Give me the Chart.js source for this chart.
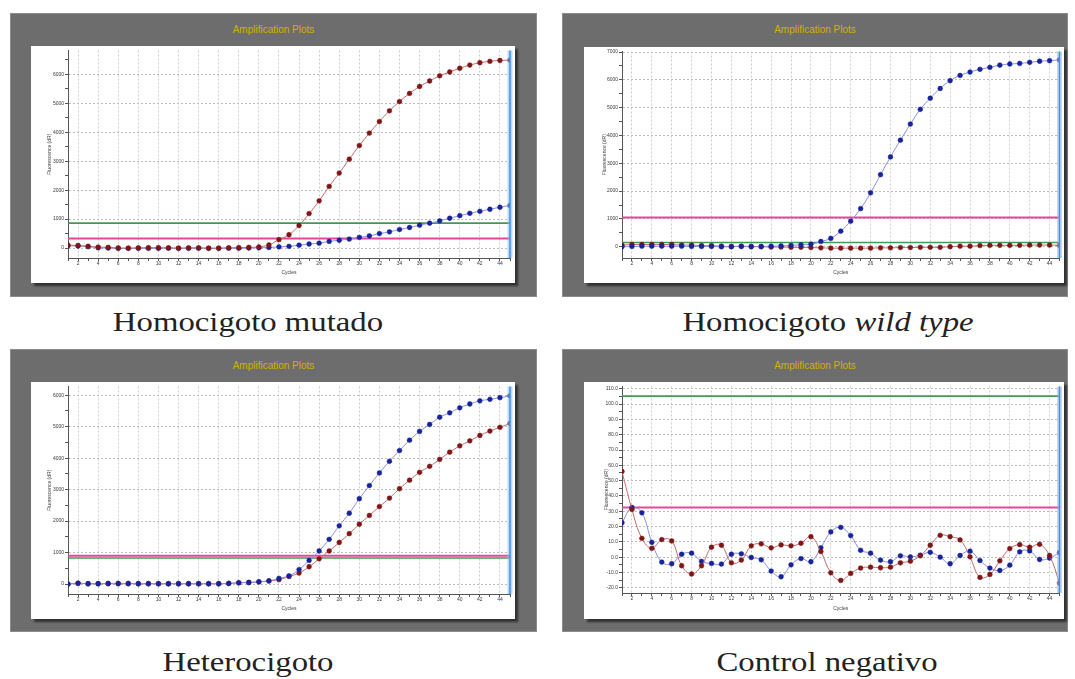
<!DOCTYPE html>
<html>
<head>
<meta charset="utf-8">
<script src="https://cdn.jsdelivr.net/npm/chart.js@4.4.0/dist/chart.umd.min.js"></script>
<style>
  html, body { margin: 0; padding: 0; background: #fff; width: 1075px; height: 679px; overflow: hidden; position: relative; font-family: "Liberation Sans", Arial, sans-serif; }
  .frame { position: absolute; background: #6d6d6d; box-sizing: border-box; border: 1px solid #8c8c8c; }
  .ttl { position: absolute; left: 0; right: 0; text-align: center; color: #d2b200; font-size: 10px; line-height: 10px; }
  .plot { position: absolute; background: #fff; box-shadow: 3px 3px 2px rgba(0,0,0,0.55); }
  .plot canvas { display: block; }
  .cap { position: absolute; font-family: "Liberation Serif", "Times New Roman", serif; font-size: 28px; line-height: 28px; color: #222; white-space: nowrap; transform: translateX(-50%) scaleX(1.17); transform-origin: center; }
</style>
</head>
<body>

<div class="frame" style="left:10px;top:13px;width:527px;height:284px;"><div class="ttl" style="top:11px;">Amplification Plots</div></div>
<div class="plot" style="left:31px;top:46px;width:484px;height:237px;"><canvas id="c1" width="484" height="237"></canvas></div>

<div class="frame" style="left:562px;top:13px;width:506px;height:284px;"><div class="ttl" style="top:11px;">Amplification Plots</div></div>
<div class="plot" style="left:584px;top:47px;width:480px;height:236px;"><canvas id="c2" width="480" height="236"></canvas></div>

<div class="frame" style="left:10px;top:349px;width:527px;height:283px;"><div class="ttl" style="top:11px;">Amplification Plots</div></div>
<div class="plot" style="left:31px;top:382px;width:484px;height:237px;"><canvas id="c3" width="484" height="237"></canvas></div>

<div class="frame" style="left:562px;top:349px;width:506px;height:283px;"><div class="ttl" style="top:11px;">Amplification Plots</div></div>
<div class="plot" style="left:584px;top:382px;width:480px;height:237px;"><canvas id="c4" width="480" height="237"></canvas></div>

<div class="cap" style="left:248px;top:308px;">Homocigoto mutado</div>
<div class="cap" style="left:828px;top:308px;">Homocigoto <i>wild type</i></div>
<div class="cap" style="left:248px;top:648px;">Heterocigoto</div>
<div class="cap" style="left:827px;top:648px;">Control negativo</div>

<script>
// Cycle numbers on the x axis and the ones that carry a label
const cycles = [1,2,3,4,5,6,7,8,9,10,11,12,13,14,15,16,17,18,19,20,21,22,23,24,25,26,27,28,29,30,31,32,33,34,35,36,37,38,39,40,41,42,43,44,45];
const labeledCycles = [2,4,6,8,10,12,14,16,18,20,22,24,26,28,30,32,34,36,38,40,42,44];

// Homocigoto mutado
const mutRed = [100,90,60,35,25, 5,0,10,15,15, 10,0,10,10,0, 0,10,15,25,40,
  110,290,460,780,1190, 1630,2130,2590,3070,3540, 3970,4370,4740,5060,5340,
  5580,5770,5950,6080,6210, 6320,6400,6450,6480,6490];
const mutBlue = [80,70,50,10,0, -10,-10,-10,-10,-10, -5,-10,-10,-5,-10, -10,-5,-5,0,10,
  20,40,60,100,140, 170,230,270,310,370, 420,500,560,640,710,
  790,860,940,1030,1120, 1200,1270,1340,1410,1470];
const mutThresholds = { green: 860, pink: 330 };
const mutYTicks = [0,500,1000,1500,2000,2500,3000,3500,4000,4500,5000,5500,6000,6500];

// Homocigoto wild type
const wtBlue = [0,10,20,20,20, 20,20,10,10,10, 0,0,10,0,10, 20,30,50,70,90,
  190,300,560,920,1370, 1940,2590,3230,3830,4410, 4940,5340,5690,5970,6160,
  6280,6380,6450,6530,6570, 6590,6630,6670,6690,6720];
const wtRed = [60,80,80,80,80, 80,60,60,40,40, 20,10,20,10,0, -10,-10,-20,-20,-30,
  -40,-50,-50,-50,-50, -50,-40,-40,-30,-30, -20,-20,-20,0,20,
  20,40,50,50,50, 50,60,60,60,50];
const wtThresholds = { green: 155, pink: 1050 };
const wtYTicks = [0,500,1000,1500,2000,2500,3000,3500,4000,4500,5000,5500,6000,6500,7000];

// Heterocigoto
const hetBlue = [0,20,10,10,20, 20,20,10,10,10, 10,10,10,10,10, 10,20,40,50,70,
  100,180,260,460,750, 1050,1420,1850,2250,2710, 3130,3530,3900,4240,4570,
  4850,5070,5300,5440,5600, 5720,5820,5870,5920,5980];
const hetRed = [0,30,10,10,10, 10,10,10,10,10, 10,10,10,10,10, 10,20,40,50,70,
  100,140,240,350,550, 800,1050,1320,1600,1900, 2180,2460,2730,3030,3300,
  3550,3740,3960,4190,4390, 4550,4720,4860,4980,5100];
const hetThresholds = { green: 830, pink: 900 };
const hetYTicks = [0,500,1000,1500,2000,2500,3000,3500,4000,4500,5000,5500,6000];

// Control negativo
const negBlue = [22.5,32.5,29,9.7,-3.2, -4.3,1.9,2.6,-2.8,-4.1, -4.5,1.9,2.2,-0.2,-1.7,
  -9.1,-12.8,-5.0,-0.9,-3.0, 6.1,16.5,19.5,14.1,4.5, 2.6,-1.9,-3.0,0.9,0.2,
  1.3,3.2,0.0,-4.3,1.1, 3.9,-2.2,-7.1,-8.7,-5.2, 3.5,4.1,-1.5,-0.6,3.0];
const negRed = [56,31.2,12.3,5.8,11.5, 10.6,-5.6,-11.0,-5.6,6.5, 7.8,-3.7,-1.9,7.4,8.7,
  6.1,8.0,7.4,9.1,13.4, 3.7,-10.2,-15.2,-10.6,-7.1, -6.5,-6.9,-6.5,-3.7,-2.6,
  0.9,7.8,14.3,13.4,11.3, 0.2,-13.2,-11.3,-2.4,5.6, 8.2,6.5,8.4,1.1,-16.9];
const negThresholds = { green: 105.2, pink: 32.5 };
const negYTicks = [-20,-15,-10,-5,0,5,10,15,20,25,30,35,40,45,50,55,60,65,70,75,80,85,90,95,100,105,110];

const RED_PT = '#7e1616', RED_LN = '#c46a6a';
const BLUE_PT = '#17239a', BLUE_LN = '#8b8be6';
const GREEN = '#3f9a55', PINK = '#e6479e';
const AXIS_FONT = { family: '"Liberation Sans", Arial, sans-serif', size: 5 };

// light-blue marker on the last cycle
const lastCycleLine = {
  id: 'lastCycleLine',
  afterDatasetsDraw(chart) {
    const { ctx, chartArea, scales } = chart;
    const x = scales.x.getPixelForValue(cycles[cycles.length - 1]);
    ctx.save();
    ctx.fillStyle = 'rgba(130,185,245,0.55)';
    ctx.fillRect(x - 2.5, chartArea.top, 5, chartArea.bottom - chartArea.top);
    ctx.strokeStyle = '#3b8fe6';
    ctx.lineWidth = 1.4;
    ctx.beginPath();
    ctx.moveTo(x, chartArea.top);
    ctx.lineTo(x, chartArea.bottom);
    ctx.stroke();
    ctx.restore();
  }
};

function series(values, ptColor, lnColor) {
  return {
    data: values.map((v, i) => ({ x: cycles[i], y: v })),
    borderColor: lnColor,
    backgroundColor: ptColor,
    pointBackgroundColor: ptColor,
    pointBorderColor: ptColor,
    pointRadius: 2.4,
    pointBorderWidth: 0.5,
    borderWidth: 1,
    tension: 0.4
  };
}

function threshold(value, color, width) {
  return {
    data: [{ x: cycles[0], y: value }, { x: cycles[cycles.length - 1], y: value }],
    borderColor: color,
    borderWidth: width,
    pointRadius: 0,
    tension: 0
  };
}

function drawPanel(id, p) {
  new Chart(document.getElementById(id), {
    type: 'line',
    data: {
      datasets: [
        series(p.top, p.topPt, p.topLn),
        series(p.under, p.underPt, p.underLn),
        threshold(p.thr.pink, PINK, 2),
        threshold(p.thr.green, GREEN, 1.6)
      ]
    },
    options: {
      responsive: false,
      animation: false,
      devicePixelRatio: 1,
      layout: { padding: { top: p.padTop, right: p.padRight, left: 0, bottom: 0 } },
      plugins: { legend: { display: false }, tooltip: { enabled: false } },
      scales: {
        x: {
          type: 'linear',
          min: cycles[0],
          max: cycles[cycles.length - 1],
          afterBuildTicks: s => { s.ticks = cycles.map(v => ({ value: v })); },
          afterFit: s => { s.height = p.xAxisH; },
          ticks: {
            autoSkip: false, maxRotation: 0, padding: 0,
            font: AXIS_FONT, color: '#3a3a3a',
            callback: v => labeledCycles.includes(v) ? String(v) : ''
          },
          grid: {
            color: c => (c.tick && labeledCycles.includes(c.tick.value)) ? '#cdcdcd' : 'rgba(0,0,0,0)',
            tickColor: '#555', tickLength: 3, lineWidth: 1
          },
          border: { color: '#555', width: 1, dash: [2, 2] },
          title: { display: true, text: 'Cycles', font: AXIS_FONT, color: '#3a3a3a', padding: { top: 0, bottom: 7 } }
        },
        y: {
          type: 'linear',
          min: p.yMin,
          max: p.yMax,
          afterBuildTicks: s => { s.ticks = p.yTicks.map(v => ({ value: v })); },
          afterFit: s => { s.width = p.yAxisW; },
          ticks: {
            autoSkip: false, padding: 1,
            font: AXIS_FONT, color: '#3a3a3a',
            callback: v => p.isMajor(v) ? p.fmt(v) : ''
          },
          grid: {
            color: c => (c.tick && p.isMajor(c.tick.value)) ? '#bdbdbd' : 'rgba(0,0,0,0)',
            tickColor: '#555', tickLength: 3, lineWidth: 1
          },
          border: { color: '#555', width: 1, dash: [2, 2] },
          title: { display: true, text: 'Fluorescence (dR)', font: AXIS_FONT, color: '#3a3a3a', padding: { top: p.yTitlePad, bottom: 0 } }
        }
      }
    },
    plugins: [lastCycleLine]
  });
}

const thousands = v => v % 1000 === 0;
const tens = v => v % 10 === 0;

drawPanel('c1', {
  top: mutRed, topPt: RED_PT, topLn: RED_LN,
  under: mutBlue, underPt: BLUE_PT, underLn: BLUE_LN,
  thr: mutThresholds, yTicks: mutYTicks, yMin: -343, yMax: 6823,
  isMajor: thousands, fmt: v => String(v),
  padTop: 3, padRight: 5, xAxisH: 25, yAxisW: 37, yTitlePad: 16
});
drawPanel('c2', {
  top: wtBlue, topPt: BLUE_PT, topLn: BLUE_LN,
  under: wtRed, underPt: RED_PT, underLn: RED_LN,
  thr: wtThresholds, yTicks: wtYTicks, yMin: -405, yMax: 7020,
  isMajor: thousands, fmt: v => String(v),
  padTop: 4, padRight: 3, xAxisH: 25, yAxisW: 38, yTitlePad: 18
});
drawPanel('c3', {
  top: hetBlue, topPt: BLUE_PT, topLn: BLUE_LN,
  under: hetRed, underPt: RED_PT, underLn: RED_LN,
  thr: hetThresholds, yTicks: hetYTicks, yMin: -316, yMax: 6276,
  isMajor: thousands, fmt: v => String(v),
  padTop: 4, padRight: 5, xAxisH: 25, yAxisW: 37, yTitlePad: 16
});
drawPanel('c4', {
  top: negRed, topPt: RED_PT, topLn: RED_LN,
  under: negBlue, underPt: BLUE_PT, underLn: BLUE_LN,
  thr: negThresholds, yTicks: negYTicks, yMin: -23.4, yMax: 111.5,
  isMajor: tens, fmt: v => v.toFixed(1),
  padTop: 4, padRight: 3, xAxisH: 26, yAxisW: 38, yTitlePad: 20
});
</script>
</body>
</html>
